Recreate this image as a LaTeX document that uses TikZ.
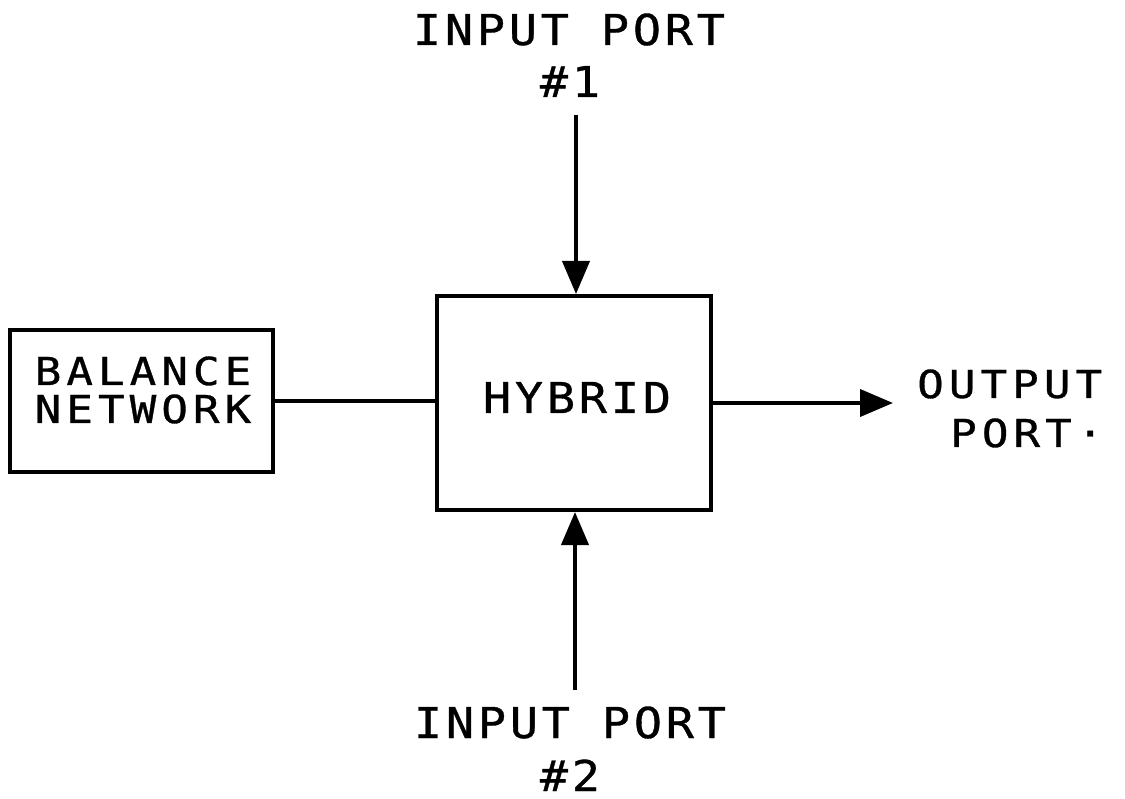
\documentclass[tikz,border=0pt]{standalone}
\usepackage{fontspec}
\newfontfamily\plotfont{DejaVu Sans Mono}[LetterSpace=9,FakeStretch=1.1,FakeBold=0.8]
\newfontfamily\plotfontw{DejaVu Sans Mono}[LetterSpace=13,FakeStretch=1.15,FakeBold=0.8]
\usetikzlibrary{arrows.meta}
\begin{document}
\begin{tikzpicture}[x=1pt,y=-1pt,
  box/.style={draw, line width=4pt, inner sep=0pt},
  lbl/.style={font=\plotfont\fontsize{42.5}{38}\selectfont, inner sep=0pt, anchor=base},
  slbl/.style={font=\plotfontw\fontsize{38.5}{38}\selectfont, inner sep=0pt, anchor=base},
  conn/.style={line width=4pt},
  arr/.style={conn, -{Triangle[length=33pt,width=27pt]}}]
\useasboundingbox (0,0) rectangle (1125,799);
\node[box, minimum width=274pt, minimum height=214pt] (hyb) at (574,403) {};
\node[box, minimum width=263pt, minimum height=142pt] (bal) at (141.5,401) {};
\coordinate (out) at (893,403);
\coordinate (in1) at (576,115);
\coordinate (in2) at (575,690);
\draw[conn] (bal.east) -- (bal.east -| hyb.west);
\draw[arr] (hyb.east) -- (out);
\draw[arr] (in1) -- (in1 |- hyb.north);
\draw[arr] (in2) -- (in2 |- hyb.south);
\node[lbl] (t1a) at (569,45) {INPUT PORT};
\node[lbl] (t1b) at (570,97) {\#1};
\node[lbl] (t2a) at (570,738) {INPUT PORT};
\node[lbl] (t2b) at (570,791) {\#2};
\node[slbl] (bal1) at (143,385) {BALANCE};
\node[slbl] (bal2) at (143,423) {NETWORK};
\node[lbl] (hybt) at (577,413) {HYBRID};
\node[slbl, anchor=base west] (o1) at (917,398) {OUTPUT};
\node[slbl, anchor=base west] (o2) at (950,447) {PORT·};
\end{tikzpicture}
\end{document}
